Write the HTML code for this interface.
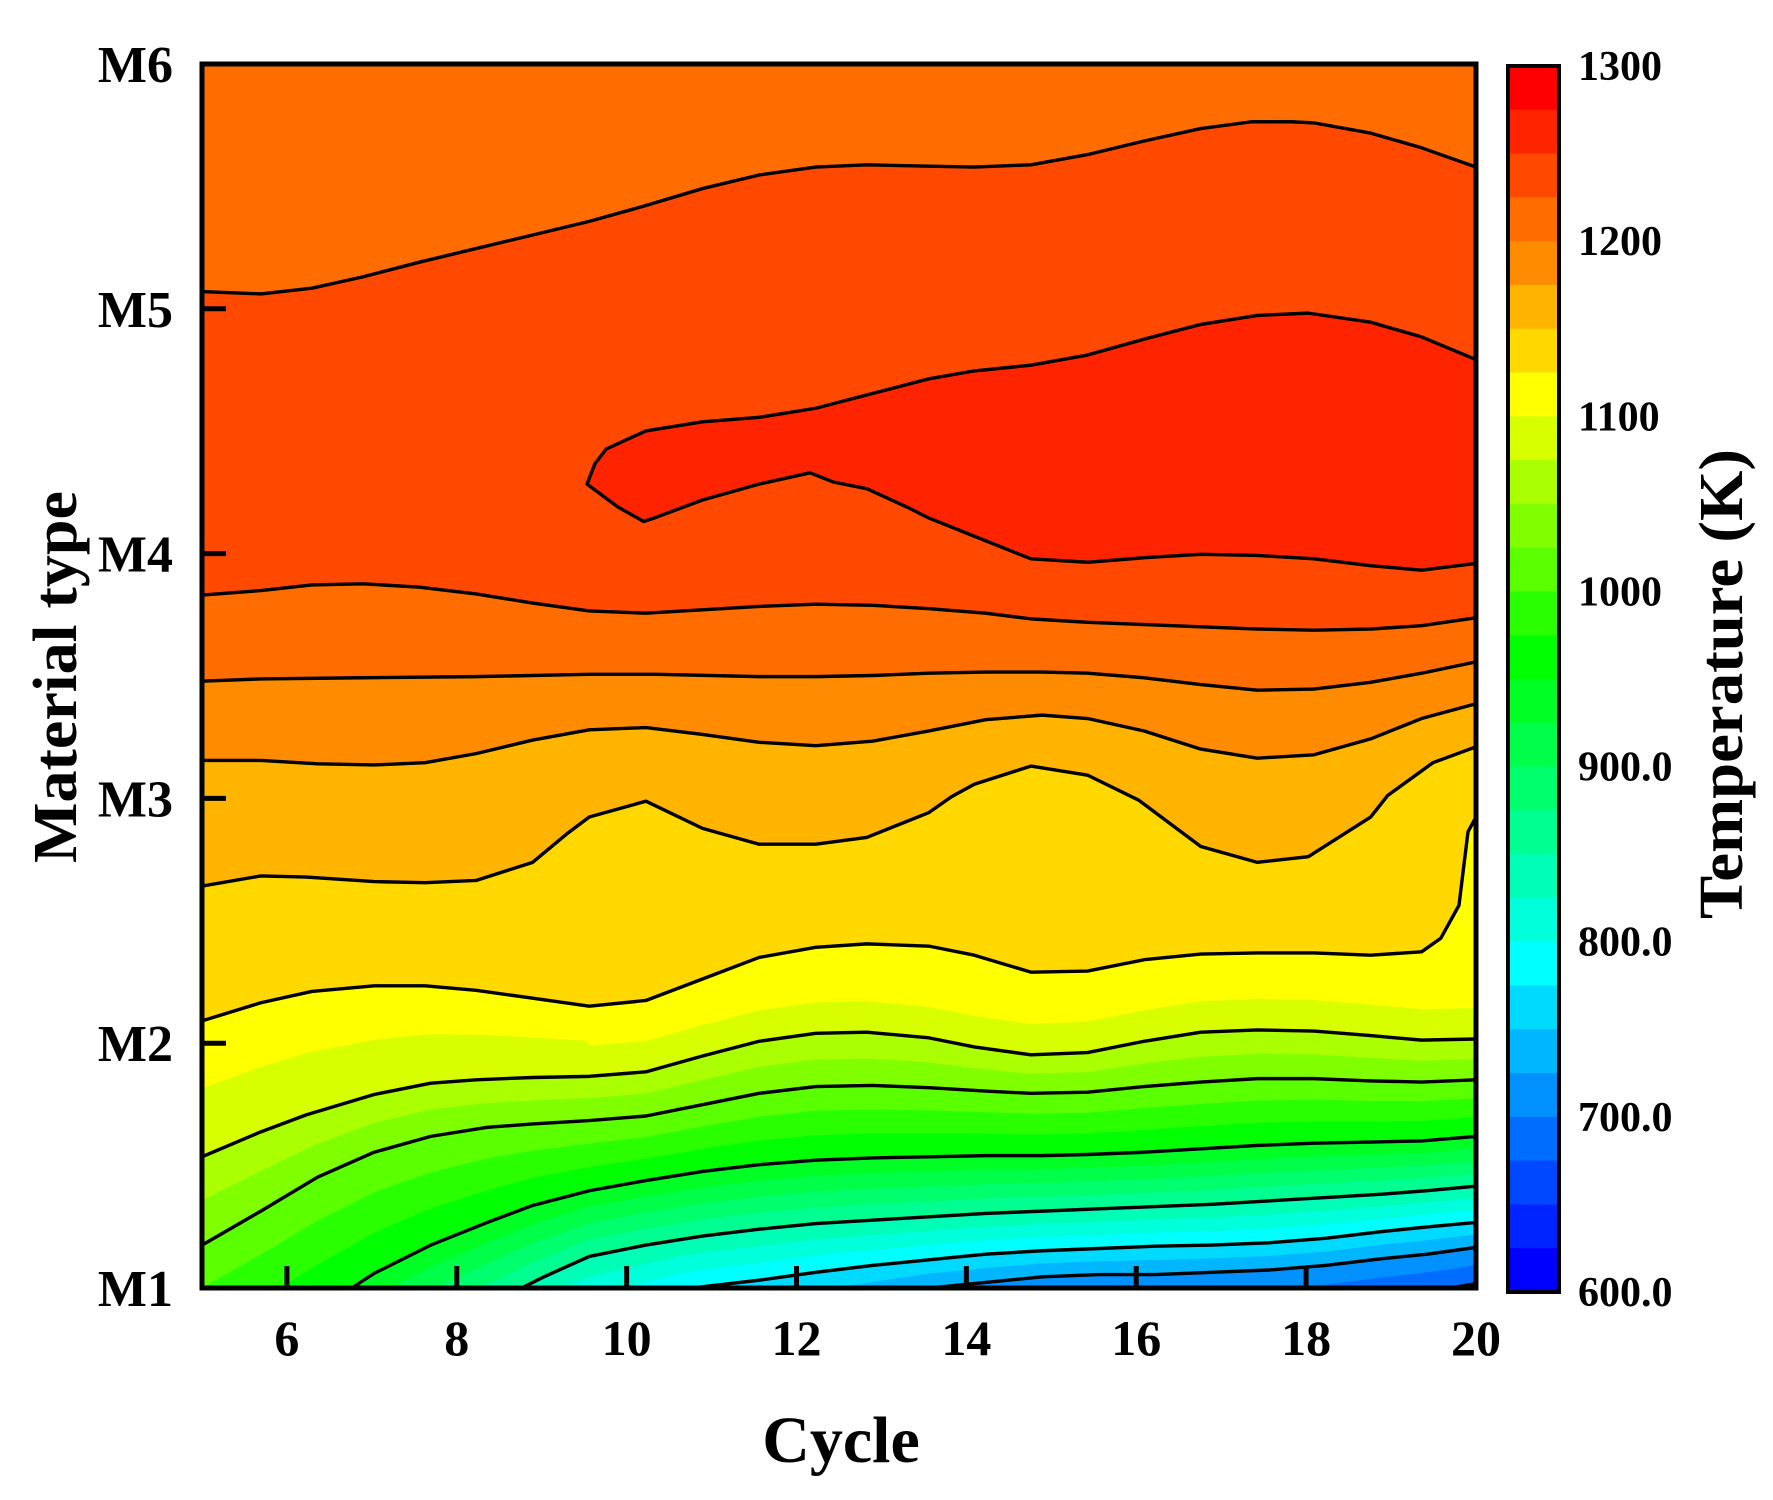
<!DOCTYPE html>
<html><head><meta charset="utf-8">
<style>
html,body{margin:0;padding:0;background:#fff;width:1773px;height:1500px;overflow:hidden;}
svg{display:block;}
text{font-family:"Liberation Serif",serif;font-weight:bold;fill:#000;}
</style></head>
<body>
<svg id="s" xmlns="http://www.w3.org/2000/svg" width="1773" height="1500" viewBox="0 0 1773 1500">
<defs><clipPath id="cp"><rect x="178" y="57" width="1125" height="1081"/></clipPath></defs>
<g id="plot" transform="translate(202,64) scale(1.1324) translate(-178,-57)">
<g id="fills" clip-path="url(#cp)"></g>
<g id="lines" clip-path="url(#cp)" fill="none" stroke="#000" stroke-width="3" stroke-linejoin="round"></g>
</g>
<g id="frame"></g>
<g id="cbar"></g>
<text x="841" y="1462" font-size="66" text-anchor="middle">Cycle</text>
<text transform="translate(76,677) rotate(-90)" font-size="62" text-anchor="middle" textLength="372" lengthAdjust="spacingAndGlyphs">Material type</text>
<text transform="translate(1742,684) rotate(-90)" font-size="62" text-anchor="middle" textLength="470" lengthAdjust="spacingAndGlyphs">Temperature (K)</text>
</svg>
<script>
var NS="http://www.w3.org/2000/svg";
function el(tag,attrs,parent,txt){var e=document.createElementNS(NS,tag);for(var k in attrs)e.setAttribute(k,attrs[k]);if(txt!==undefined)e.textContent=txt;parent.appendChild(e);return e;}
var COLORS=["#ff0000","#ff2400","#ff4800","#ff6d00","#ff8c00","#ffb400","#ffd800","#ffff00","#d8ff00","#aaff00","#80ff00","#5aff00","#2aff00","#00ff00","#00ff24","#00ff48","#00ff6d","#00ff91","#00ffb6","#00ffda","#00ffff","#00daff","#00b6ff","#0091ff","#006dff","#0048ff","#0024ff","#0000ff"];
function colBelow(level){var i=Math.round((1300-level)/25);if(i>27)i=27;return COLORS[i];}
var lines=[
{lv:1225,p:[[178,258],[230,260],[275,255],[320,245],[370,232],[420,220],[470,208],[520,196],[570,182],[620,167],[670,155],[720,148],[765,146],[810,147],[860,148],[910,146],[960,137],[1010,125],[1060,114],[1105,108],[1140,108],[1160,109],[1210,118],[1255,131],[1303,148]]},
{lv:1225,p:[[178,526],[230,522],[275,517],[320,516],[370,519],[420,525],[470,533],[520,540],[570,542],[620,539],[670,536],[720,534],[770,535],[820,538],[870,542],[910,547],[960,550],[1010,552],[1060,554],[1110,556],[1160,557],[1210,556],[1255,553],[1303,546]]},
{lv:1200,p:[[178,602],[230,600],[320,599],[420,598],[520,596],[580,596],[670,598],[720,598],[770,597],[820,595],[870,594],[920,594],[960,595],[1010,599],[1060,605],[1110,610],[1160,609],[1210,603],[1255,595],[1303,585]]},
{lv:1175,p:[[178,672],[230,672],[280,675],[330,676],[375,674],[420,666],[470,654],[520,645],[570,643],[620,649],[670,656],[720,659],[770,655],[820,646],[870,636],[920,632],[960,635],[1010,646],[1060,662],[1110,670],[1160,667],[1210,653],[1255,635],[1303,622]]},
{lv:1150,p:[[178,783],[230,774],[270,775],[330,779],[375,780],[420,778],[470,762],[500,737],[520,722],[570,708],[620,732],[670,746],[720,746],[765,740],[820,718],[840,704],[860,693],[910,677],[960,685],[1005,707],[1060,748],[1110,762],[1155,757],[1210,722],[1225,703],[1265,674],[1303,660]]},
{lv:1125,p:[[178,902],[230,886],[275,876],[330,871],[375,871],[420,875],[470,882],[520,889],[570,884],[620,865],[670,846],[720,837],[765,834],[820,836],[860,844],[910,859],[960,858],[1010,848],[1060,843],[1110,842],[1160,842],[1210,844],[1255,841],[1272,829],[1288,800],[1296,735],[1303,722]]},
{lv:1075,p:[[178,1022],[230,1000],[270,985],[330,967],[380,957],[420,954],[470,952],[520,951],[570,947],[620,933],[670,920],[720,913],[765,912],[820,917],[860,925],[910,932],[960,930],[1010,920],[1060,912],[1110,910],[1160,911],[1210,915],[1255,919],[1303,918]]},
{lv:1025,p:[[178,1100],[230,1070],[280,1040],[330,1018],[380,1004],[430,996],[470,993],[520,990],[570,986],[620,976],[670,966],[720,960],[770,959],[820,961],[870,964],[910,966],[960,965],[1010,960],[1060,956],[1110,953],[1160,953],[1210,955],[1255,956],[1303,954]]},
{lv:950,p:[[178,1215],[250,1175],[310,1138],[330,1125],[380,1100],[430,1080],[470,1065],[520,1052],[570,1043],[620,1035],[670,1029],[720,1025],[770,1023],[820,1022],[870,1021],[920,1021],[960,1020],[1010,1018],[1060,1015],[1110,1012],[1160,1010],[1210,1009],[1255,1008],[1303,1004]]},
{lv:850,p:[[178,1290],[330,1205],[460,1138],[480,1128],[520,1110],[570,1100],[620,1092],[670,1086],[720,1081],[770,1078],[820,1075],[870,1072],[920,1070],[970,1068],[1020,1066],[1070,1064],[1120,1061],[1170,1058],[1220,1055],[1260,1052],[1303,1048]]},
{lv:775,p:[[178,1300],[400,1200],[610,1138],[670,1131],[720,1124],[770,1118],[820,1113],[870,1108],[920,1105],[970,1103],[1020,1101],[1070,1100],[1120,1098],[1170,1094],[1220,1088],[1260,1084],[1303,1080]]},
{lv:725,p:[[178,1320],[500,1200],[820,1138],[870,1133],[920,1128],[970,1126],[1020,1126],[1070,1124],[1120,1122],[1170,1118],[1220,1112],[1260,1108],[1303,1102]]},
{lv:675,p:[[178,1340],[800,1200],[1280,1138],[1303,1134]]}
];
function interp(p,x){if(x<=p[0][0])return p[0][1];for(var i=1;i<p.length;i++){if(x<=p[i][0]){var a=p[i-1],b=p[i];return a[1]+(b[1]-a[1])*(x-a[0])/(b[0]-a[0]);}}return p[p.length-1][1];}
var XS=[];for(var x=178;x<=1303;x+=3)XS.push(x);if(XS[XS.length-1]!=1303)XS.push(1303);
function sample(p){return XS.map(function(x){return interp(p,x);});}
var fills=document.getElementById("fills"),lg=document.getElementById("lines");
function fillBelow(ys,color){var d="M178,1400 ";for(var i=0;i<XS.length;i++)d+="L"+XS[i]+","+ys[i].toFixed(1)+" ";d+="L1303,1400 Z";el("path",{d:d,fill:color,stroke:color,"stroke-width":"0.6"},fills);}
el("rect",{x:170,y:40,width:1150,height:1120,fill:"#ff6d00"},fills);
var S=lines.map(function(l){return sample(l.p);});
fillBelow(S[0],"#ff4800");
var blob=[[518,428],[525,410],[535,397],[570,381],[620,373],[670,369],[720,361],[770,348],[820,335],[860,328],[910,323],[960,314],[1010,300],[1060,287],[1110,279],[1155,277],[1210,285],[1255,298],[1303,318],[1310,318],[1310,498],[1303,498],[1255,504],[1210,500],[1160,494],[1110,491],[1060,490],[1010,493],[960,497],[910,494],[870,478],[820,458],[800,448],[765,432],[735,426],[715,418],[670,428],[620,442],[580,457],[568,461],[545,448]];
var bd="M"+blob.map(function(q){return q[0]+","+q[1];}).join(" L")+" Z";
el("path",{d:bd,fill:"#ff2400"},fills);
el("path",{d:bd},lg);
fillBelow(S[1],colBelow(1225));
for(var i=2;i<lines.length;i++){
  var up=lines[i-1],lo=lines[i],n=Math.round((up.lv-lo.lv)/25);
  for(var k=1;k<n;k++){
    var lvk=up.lv-25*k,ys;
    if(up.lv==1125&&lo.lv==1075){
      ys=XS.map(function(x,j){var av=0.5*(S[i-1][j]+S[i][j]);return x>=520?S[i][j]-27:av;});
    }else{
      var t=k/n;ys=S[i-1].map(function(y,j){return y+(S[i][j]-y)*t;});
    }
    fillBelow(ys,colBelow(lvk));
  }
  fillBelow(S[i],colBelow(lo.lv));
}
var last=S[S.length-1];
fillBelow(last.map(function(y){return y+20;}),colBelow(650));
for(var i=0;i<lines.length;i++){el("path",{d:"M"+lines[i].p.map(function(q){return q[0]+","+q[1];}).join(" L")},lg);}
var fr=document.getElementById("frame");
el("rect",{x:202,y:64,width:1274,height:1224,fill:"none",stroke:"#000","stroke-width":"5"},fr);
for(var c=6;c<=20;c+=2){var tx=202+(c-5)*84.93;
  if(c<20)el("line",{x1:tx,y1:1288,x2:tx,y2:1266,stroke:"#000","stroke-width":"5"},fr);
  el("text",{x:tx,y:1355,"font-size":"50","text-anchor":"middle"},fr,String(c));}
for(var m=1;m<=6;m++){var ty=1288-(m-1)*244.8;
  if(m>1&&m<6)el("line",{x1:202,y1:ty,x2:226,y2:ty,stroke:"#000","stroke-width":"5"},fr);
  el("text",{x:173,y:ty+18,"font-size":"52","text-anchor":"end"},fr,"M"+m);}
var cb=document.getElementById("cbar"),cbTop=66,bh=(1292-66)/28;
for(var i=0;i<28;i++)el("rect",{x:1508,y:cbTop+i*bh,width:51,height:bh+0.6,fill:COLORS[i]},cb);
el("rect",{x:1508,y:66,width:51,height:1226,fill:"none",stroke:"#000","stroke-width":"4"},cb);
var labs=["1300","1200","1100","1000","900.0","800.0","700.0","600.0"];
for(var i=0;i<8;i++)el("text",{x:1578,y:66+i*175.14+14,"font-size":"42"},cb,labs[i]);
</script>
</body></html>
